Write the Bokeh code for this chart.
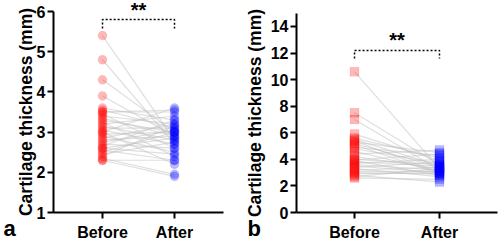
from bokeh.plotting import figure
from bokeh.layouts import row
from bokeh.models import Range1d, FixedTicker, Label
from bokeh.core.properties import value
from bokeh.embed import file_html
from bokeh.resources import INLINE

# ---------------- data ----------------
groups = ["Before", "After"]
group_x = [1, 2]

a_before = [5.4, 4.8, 4.3, 3.9, 3.6, 3.55, 3.5, 3.45, 3.4, 3.35, 3.3, 3.25,
            3.2, 3.15, 3.1, 3.05, 3.0, 2.95, 2.9, 2.85, 2.8, 2.75, 2.7, 2.65,
            2.6, 2.55, 2.5, 2.45, 2.4, 2.35, 2.3, 2.3, 3.0, 2.6, 3.5]
a_after = [2.8, 2.7, 3.0, 2.9, 3.3, 3.1, 3.5, 2.6, 3.2, 2.9, 3.0, 2.4,
           3.4, 2.8, 3.1, 2.7, 3.6, 3.0, 2.5, 3.2, 2.9, 3.05, 2.6, 3.3,
           2.85, 2.3, 3.0, 2.75, 3.15, 1.95, 2.3, 1.9, 2.2, 2.45, 3.55]

b_before = [10.6, 7.5, 7.0, 5.9, 5.6, 5.5, 5.4, 5.3, 5.2, 5.1, 4.8, 4.6,
            4.4, 4.2, 4.0, 3.9, 3.8, 3.7, 3.6, 3.5, 3.4, 3.3, 3.2, 3.1,
            3.0, 2.9, 2.8, 2.7, 2.6, 4.9, 3.95]
b_after = [3.3, 3.6, 3.2, 3.9, 4.1, 3.5, 3.0, 4.5, 3.4, 2.9, 3.7, 3.1,
           4.7, 3.3, 3.6, 2.8, 3.5, 4.0, 3.2, 3.0, 3.8, 2.7, 3.4, 3.1,
           2.9, 3.0, 2.3, 3.3, 2.5, 4.3, 4.4]

a_yticks = [1, 2, 3, 4, 5, 6]
b_yticks = [0, 2, 4, 6, 8, 10, 12, 14]

a_sig = {"top": 5.8, "drop": 5.58, "text": "**"}
b_sig = {"top": 12.2, "drop": 11.6, "text": "**"}

FONT = "Liberation Sans"
BEFORE_COLOR = "#ff0000"
AFTER_COLOR = "#0000ff"
H = 241


class Panel:
    """Pixel layout of one panel: the frame covers the whole figure and the
    axes are drawn at fixed data locations."""

    def __init__(self, width, x_px_at_1, px_per_x, y_px_at_0val, y0val, px_per_y):
        self.width = width
        self.x_start = 1 - x_px_at_1 / px_per_x
        self.x_end = self.x_start + width / px_per_x
        self.y_end = y0val + y_px_at_0val / px_per_y
        self.y_start = self.y_end - H / px_per_y
        self.ppx = px_per_x
        self.ppy = px_per_y

    def dx(self, px):
        return self.x_start + px / self.ppx

    def dy(self, py):
        return self.y_end - py / self.ppy


def build(pan, before, after, marker, size, sig, yticks, ybounds,
          yaxis_px, xaxis_right_px, label_standoff, letter, letter_px):
    p = figure(width=pan.width, height=H, output_backend="svg",
               toolbar_location=None,
               x_range=Range1d(pan.x_start, pan.x_end),
               y_range=Range1d(pan.y_start, pan.y_end),
               min_border=0, min_border_left=0, min_border_right=0,
               min_border_top=0, min_border_bottom=0)
    p.outline_line_color = None
    p.xgrid.visible = False
    p.ygrid.visible = False
    xa, ya = p.xaxis[0], p.yaxis[0]
    for ax in (xa, ya):
        ax.axis_line_width = 2
        ax.axis_line_color = "black"
        ax.major_tick_line_width = 2
        ax.major_tick_line_color = "black"
        ax.major_tick_out = 6
        ax.major_tick_in = 0
        ax.minor_tick_line_color = None
        ax.major_label_text_font = FONT
        ax.major_label_text_font_style = "bold"
        ax.major_label_text_font_size = "16px"
        ax.major_label_text_color = "black"
    y_axis_x = pan.dx(yaxis_px)
    xa.ticker = FixedTicker(ticks=group_x)
    xa.major_label_overrides = {1: groups[0], 2: groups[1]}
    xa.major_label_standoff = 5
    xa.fixed_location = ybounds[0]
    xa.bounds = (y_axis_x, pan.dx(xaxis_right_px))
    ya.ticker = FixedTicker(ticks=yticks)
    ya.bounds = ybounds
    ya.fixed_location = y_axis_x
    ya.major_label_standoff = 2
    ya.axis_label = "Cartilage thickness (mm)"
    ya.axis_label_text_font = FONT
    ya.axis_label_text_font_style = "bold"
    ya.axis_label_text_font_size = "17.5px"
    ya.axis_label_text_color = "black"
    ya.axis_label_standoff = label_standoff

    n = len(before)
    p.segment(x0=[group_x[0]] * n, y0=before, x1=[group_x[1]] * n, y1=after,
              line_color="#c0c0c0", line_alpha=0.5, line_width=1.2)
    p.scatter(x=[group_x[0]] * n, y=before, marker=marker, size=size,
              fill_color=BEFORE_COLOR, fill_alpha=0.28, line_color=BEFORE_COLOR,
              line_alpha=0.08)
    p.scatter(x=[group_x[1]] * n, y=after, marker=marker, size=size,
              fill_color=AFTER_COLOR, fill_alpha=0.28, line_color=AFTER_COLOR,
              line_alpha=0.08)
    p.line(x=[group_x[0], group_x[0], group_x[1], group_x[1]],
           y=[sig["drop"], sig["top"], sig["top"], sig["drop"]],
           line_color="black", line_width=1.5, line_dash="2 2")
    p.text(x=[sum(group_x) / 2], y=[sig["top"]], text=[sig["text"]],
           text_font=value(FONT), text_font_style="bold", text_font_size="20px",
           text_align="center", text_baseline="alphabetic", y_offset=-10,
           text_color="black")
    p.add_layout(Label(x=pan.dx(letter_px[0]), y=pan.dy(letter_px[1]),
                       text=letter, text_font=FONT, text_font_style="bold",
                       text_font_size="22px", text_align="left",
                       text_baseline="alphabetic", text_color="black"))
    return p


# panel a: page x 0..244 ; panel b: page x 244..500
pan_a = Panel(244, 102, 72.0, 212, 1, 40.2)
pan_b = Panel(256, 110, 85.0, 212, 0, 13.286)

pa = build(pan_a, a_before, a_after, "circle", 9, a_sig, a_yticks, (1, 6),
           53, 223, -2, "a", (3, 228))
pb = build(pan_b, b_before, b_after, "square", 9, b_sig, b_yticks, (0, 15),
           52, 253, 3, "b", (3, 228))

layout = row(pa, pb)
open("out.html", "w").write(file_html(layout, INLINE))
